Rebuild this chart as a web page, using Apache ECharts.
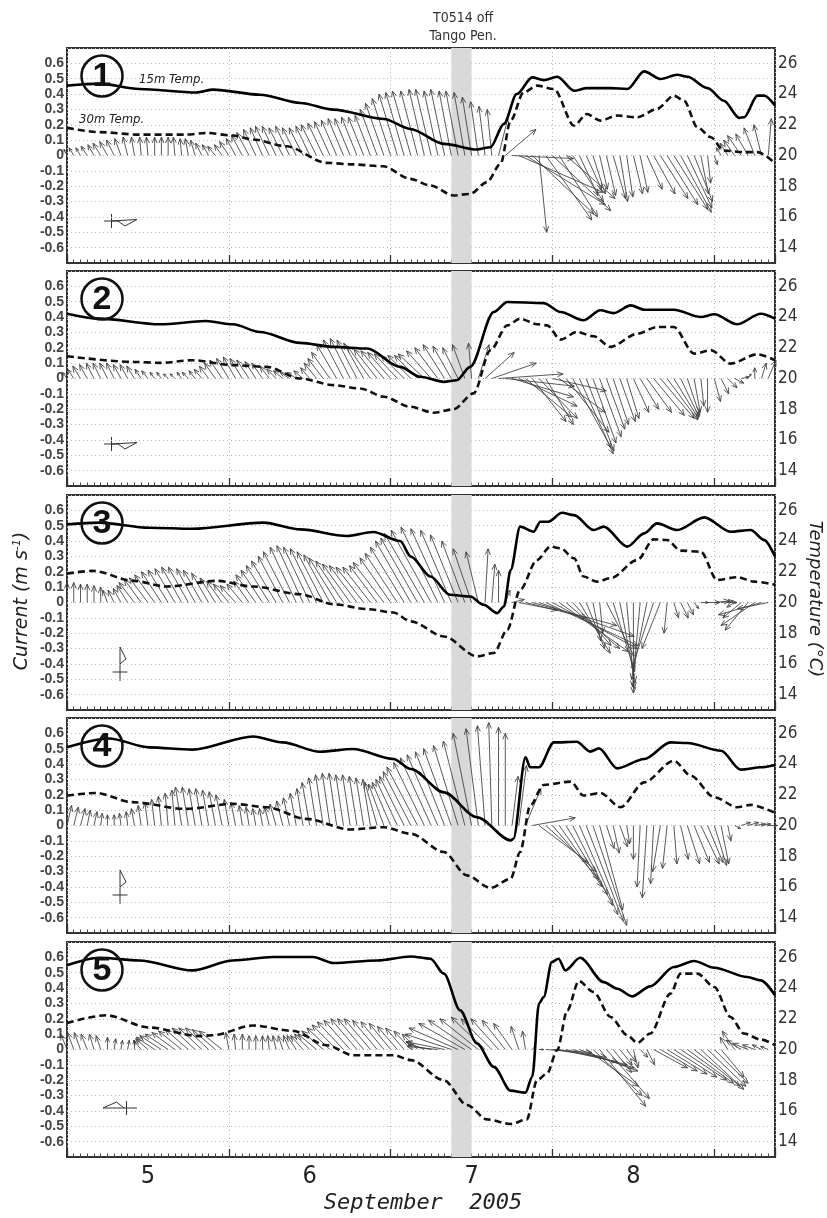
<!DOCTYPE html>
<html><head><meta charset="utf-8">
<script src="https://cdn.jsdelivr.net/npm/echarts@6/dist/echarts.min.js"></script>
<style>html,body{margin:0;padding:0;background:#fff}#c{width:827px;height:1218px}</style>
</head><body><div id="c"></div>
<script>
// ---------- DATA ----------
// time axis: hours since 5 Sep 2005 00:00
const DAY_LABELS = ['5', '6', '7', '8'];
const BAND = [57, 60]; // T0514 passing off Tango Peninsula
const PANEL_LABELS = ['1', '2', '3', '4', '5'];
const CURRENT_TICKS = [-0.6, -0.5, -0.4, -0.3, -0.2, -0.1, 0, 0.1, 0.2, 0.3, 0.4, 0.5, 0.6];
const TEMP_TICKS = [14, 16, 18, 20, 22, 24, 26];

// hourly current vectors (east u, north v; m/s), hour 0..104
const u1 = [-0.02,-0.03,-0.03,-0.04,-0.04, -0.05,-0.05,-0.05,-0.04,-0.03,
 -0.02,-0.01,-0.01,0,0,0,-0.01,-0.01,-0.02,-0.03, -0.04,-0.04,-0.05,-0.05,-0.06,
 -0.06,-0.07,-0.08,-0.08,-0.08, -0.09,-0.09,-0.09,-0.09,-0.09,-0.09,-0.09,-0.1,-0.1,-0.1,
 -0.1,-0.1,-0.1,-0.1,-0.1,-0.1, -0.11,-0.12,-0.12,-0.12,-0.12,-0.12,-0.11,
 -0.1,-0.1,-0.09,-0.09,-0.08,-0.08,-0.07, -0.06,-0.05,-0.04,-0.03,
 0.06,0.2,0.40,0.55,0.52,0.40,0.05,0.30,0.38,0.25,0.32,0.20,0.12,0.10,0.08,0.05,0.06,0.08,0.05,0.04,
 0.06,0.05,0.10,0.14,0.18,0.20,0.22,0.20,0.16,0.12,0.05,0.02,0.02,-0.03,-0.05,-0.07,-0.09,-0.08,-0.07,-0.05,0.02];
const v1 = [0.04,0.05,0.05,0.06,0.07, 0.08,0.09,0.10,0.11,0.12,
 0.12,0.12,0.12,0.12,0.12,0.12,0.12,0.11,0.11,0.10, 0.08,0.07,0.06,0.07,0.09,
 0.11,0.13,0.15,0.17,0.18, 0.19,0.19,0.18,0.19,0.18,0.18,0.19,0.20,0.21,0.22,
 0.23,0.24,0.24,0.25,0.25,0.26, 0.30,0.34,0.37,0.40,0.41,0.42,0.42,
 0.43,0.43,0.42,0.43,0.42,0.42,0.41, 0.38,0.35,0.32,0.30,
 0.24,0.17,-0.02,-0.24,-0.32,-0.38,-0.50,-0.42,-0.36,-0.40,-0.28,-0.30,-0.26,-0.22,-0.25,-0.22,-0.26,-0.28,-0.30,-0.27,
 -0.25,-0.24,-0.22,-0.25,-0.28,-0.32,-0.35,-0.37,-0.34,-0.30,-0.25,-0.18,-0.06,0.05,0.08,0.10,0.13,0.14,0.18,0.20,0.24];

const u2 = [-0.03,-0.04,-0.05,-0.05,-0.05, -0.05,-0.05,-0.05,-0.05,-0.05,-0.05,
 -0.04,-0.04,-0.03,-0.03,-0.03,-0.03,-0.03,-0.04,-0.04,
 -0.05,-0.06,-0.07,-0.08,-0.08,-0.08,-0.08,-0.08,-0.07,-0.07,-0.06,
 -0.06,-0.06,-0.06,-0.06,-0.06,-0.06, -0.08,-0.10,-0.12, -0.13,-0.13,-0.13,-0.13,-0.13,
 -0.15,-0.15,-0.15,-0.15,-0.15,-0.15,-0.15,-0.15, -0.17,-0.16,-0.15,-0.14, -0.12,-0.10,-0.08,-0.02,
 0.07,0.19,0.29,0.42,0.45,0.40,0.38,0.30,0.22,0.25,0.18,0.35,0.30,0.28,0.25,0.22,0.18,0.15,0.14,0.12,
 0.10,0.10,0.08,0.10,0.12,0.16,0.20,0.22,0.20,0.16,0.12,0.08,0.04,0.02,0.0,0.04,0.05,0.06,0.06,0.05,0.02,0.0,0.03,0.05];
const v2 = [0.04,0.06,0.08,0.09,0.10, 0.10,0.10,0.10,0.09,0.09,0.08,
 0.06,0.05,0.04,0.04,0.03,0.03,0.04,0.04,0.05,
 0.06,0.08,0.10,0.12,0.13,0.14,0.13,0.12,0.11,0.10,0.08,
 0.06,0.05,0.04,0.04,0.05,0.07, 0.10,0.13,0.17, 0.22,0.25,0.26,0.25,0.23,
 0.21,0.19,0.18,0.17,0.16,0.15,0.15,0.15, 0.16,0.18,0.20,0.22, 0.21,0.20,0.22,0.23,
 0.22,0.17,0.10,0.03,-0.05,-0.12,-0.18,-0.25,-0.28,-0.26,-0.30,-0.08,-0.22,-0.35,-0.45,-0.49,-0.47,-0.42,-0.38,-0.33,
 -0.30,-0.28,-0.26,-0.22,-0.20,-0.22,-0.24,-0.26,-0.27,-0.26,-0.25,-0.24,-0.22,-0.18,-0.22,-0.15,-0.10,-0.06,-0.03,0.01,0.03,0.07,0.10,0.12];

const u3 = [0,0,0,0,0,0, -0.03,-0.04,-0.05,-0.07,
 -0.10,-0.11,-0.12,-0.13,-0.13,-0.13,-0.13,-0.13,-0.13,-0.12,-0.12,-0.11,
 -0.10,-0.10,-0.10,-0.10,-0.10,-0.10, -0.13,-0.14,-0.15,-0.16,-0.16,-0.17,-0.17,
 -0.17,-0.17,-0.17,-0.17,-0.17, -0.18,-0.18,-0.18,-0.18,-0.18,-0.18,-0.18,
 -0.20,-0.20,-0.21,-0.22,-0.23,-0.24, -0.26,-0.26,-0.24,-0.22,-0.20,-0.18,
 -0.15,-0.12,-0.08,0.02, 0.02,0.0,0.03,
 0.08,0.25,0.40,0.55,0.62,0.60,0.55,0.45,0.35,0.25,0.20,0.12,0.05,0.02,
 0.18,0.14,0.10,0.05,0.0,-0.05,-0.10,-0.14,-0.12,-0.02,
 0.03,0.05,0.04,0.03,0.05,0.08,0.10,0.08,0.06,-0.05,-0.12,-0.15,-0.22,-0.28,-0.20];
const v3 = [0.13,0.13,0.12,0.12,0.11,0.10, 0.08,0.08,0.09,0.11,
 0.13,0.15,0.16,0.18,0.20,0.21,0.22,0.23,0.23,0.22,0.21,0.19,
 0.16,0.14,0.12,0.11,0.12,0.14, 0.18,0.21,0.24,0.27,0.30,0.33,0.36,
 0.37,0.36,0.35,0.33,0.31, 0.29,0.27,0.25,0.24,0.23,0.23,0.24,
 0.26,0.29,0.32,0.36,0.40,0.42, 0.45,0.47,0.49,0.48,0.47,0.44,
 0.40,0.35,0.33,0.35, 0.25,0.21,0.08,
 0.02,-0.05,-0.10,-0.15,-0.22,-0.28,-0.30,-0.32,-0.30,-0.28,-0.33,-0.30,-0.25,-0.20,
 -0.35,-0.45,-0.52,-0.56,-0.59,-0.55,-0.50,-0.42,-0.30,-0.20,
 -0.10,-0.10,-0.08,-0.04,0.0,0.0,0.01,0.01,0.0,-0.03,-0.10,-0.18,-0.15,-0.08,-0.04];

const u4 = [0.03,0.03,0.03,0.02,0.02,0.01, 0,0,-0.01,-0.01,
 -0.02,-0.02,-0.02,-0.02,-0.02,-0.02,-0.02, -0.04,-0.04,-0.04,-0.04,-0.04,-0.04,-0.04,
 -0.03,-0.03,-0.02,-0.02,-0.02,-0.02,-0.03, -0.04,-0.04,-0.04,-0.04,-0.04,
 -0.05,-0.05,-0.05,-0.05,-0.05,-0.05,-0.05,-0.05,-0.05,-0.05,
 -0.08,-0.10,-0.12,-0.14,-0.16,-0.18,-0.20, -0.20,-0.20,-0.20,-0.19,-0.18,-0.16,-0.14,
 -0.12,-0.08,-0.05,-0.02,0.0,0.0,
 0.04,0.05,0.10,0.28,0.32,0.33,0.30,0.28,0.27,0.26,0.25,0.24,0.22,0.15,
 0.05,0.04,0.05,0.02,0.0,-0.02,-0.03,-0.02,-0.05,-0.03,0.02,0.05,0.08,0.10,0.12,0.10,0.08,0.05,0.02,0.04,0.06,0.07,0.07,0.06,0.06];
const v4 = [0.13,0.12,0.11,0.10,0.09,0.08, 0.07,0.07,0.08,0.09,
 0.11,0.13,0.15,0.17,0.19,0.21,0.23, 0.25,0.25,0.24,0.24,0.23,0.22,0.20,
 0.17,0.15,0.13,0.12,0.11,0.11,0.12, 0.14,0.16,0.18,0.21,0.24,
 0.28,0.31,0.33,0.34,0.34,0.33,0.33,0.32,0.31,0.30,
 0.28,0.27,0.28,0.30,0.32,0.35,0.38, 0.41,0.44,0.46,0.48,0.50,0.52,0.55,
 0.60,0.63,0.65,0.67,0.64,0.60,
 0.32,0.39,0.24,0.05,-0.24,-0.30,-0.35,-0.40,-0.45,-0.52,-0.58,-0.62,-0.65,-0.55,
 -0.15,-0.18,-0.14,-0.12,-0.22,-0.40,-0.47,-0.38,-0.30,-0.28,-0.25,-0.22,-0.25,-0.24,-0.25,-0.24,-0.26,-0.25,-0.10,-0.02,0.02,0.02,0.01,0.01,0.0];

const u5 = [-0.04,-0.04,-0.04,-0.04,-0.03,-0.03, 0.0,0.01,0.01,0.01,0.0,
 -0.05,-0.08,-0.12,-0.14,-0.15,-0.15, -0.15,-0.15,-0.15,-0.15,-0.15,-0.15,-0.15,
 -0.02,-0.01,0,0,0,0,-0.01,-0.02,-0.03,-0.04, -0.06,-0.08,-0.10,-0.12,
 -0.14,-0.15,-0.16,-0.17,-0.17,-0.17,-0.17,-0.17,-0.16,-0.15,-0.14,-0.13,-0.12,-0.11,-0.10,
 -0.12,-0.15,-0.20,-0.25, -0.30,-0.32,-0.30,-0.28,-0.25,-0.22, -0.20,-0.18,-0.15,-0.12,-0.05,-0.02,
 0.02,0.03, 0.30,0.35,0.38,0.40,0.40,0.38, 0.34,0.32,0.30,0.28,0.12,0.08, 0.06,0.03,0.05,0.05,
 0.22,0.24,0.26,0.28,0.30,0.30,0.30,0.28,0.25,0.22,0.15, -0.05,-0.08,-0.10,-0.10,-0.08,-0.06,-0.05];
const v5 = [0.10,0.11,0.11,0.10,0.10,0.09, 0.08,0.07,0.06,0.06,0.06,
 0.06,0.07,0.08,0.09,0.10,0.11, 0.12,0.13,0.14,0.14,0.14,0.13,0.12,
 0.11,0.10,0.10,0.09,0.09,0.09,0.09,0.09,0.09,0.09, 0.09,0.09,0.10,0.10,
 0.12,0.14,0.16,0.18,0.19,0.20,0.20,0.20,0.19,0.18,0.17,0.15,0.14,0.12,0.10,
 0.05,0.03,0.02,0.05, 0.10,0.14,0.17,0.19,0.20,0.21, 0.20,0.20,0.19,0.17,0.15,0.12,
 0.02,0.0, -0.02,-0.05,-0.08,-0.10,-0.12,-0.14, -0.24,-0.30,-0.37,-0.32,-0.15,-0.10, -0.08,-0.12,-0.05,-0.10,
 -0.12,-0.14,-0.16,-0.18,-0.20,-0.22,-0.24,-0.26,-0.24,-0.22,-0.18, 0.08,0.12,0.06,0.04,0.03,0.03,0.02];

// water temperature [hour, degC]
const temp15_1 = [[0,24.55],[4.8,24.68],[10.7,24.33],[19.2,24.1],[21.7,24.29],[28.6,23.96],[34.6,23.42],[39.5,22.99],[47,22.38],[50.9,21.73],[55.9,20.76],[60.8,20.39],[62.8,20.54],[64.8,22.06],[66.7,24.0],[69,25.09],[70.7,24.91],[72.7,25.13],[75.2,24.22],[77.1,24.39],[80.6,24.39],[83.1,24.33],[85.6,25.48],[88,24.98],[90.5,25.26],[92,25.13],[95,24.39],[97.4,23.57],[99.7,22.45],[100.4,22.49],[102.4,23.9],[103.4,23.9],[105,23.25]];
const temp30_1 = [[0,21.8],[4.8,21.52],[10.7,21.36],[17.6,21.36],[20.6,21.47],[24.6,21.3],[27.6,21.04],[32.5,20.6],[38.5,19.52],[42.4,19.42],[46.9,19.3],[50.9,18.48],[53.9,18.05],[57.3,17.4],[59.8,17.5],[62.3,18.27],[64.3,19.46],[65.8,22.27],[67.7,24.1],[69.7,24.55],[72.2,24.33],[75.2,21.95],[77.1,22.7],[79.1,22.27],[81.6,22.6],[84.6,22.49],[87.5,23.03],[90,23.9],[91.5,23.57],[93.5,21.84],[95.5,21.19],[97.4,20.32],[100.4,20.22],[102.4,20.22],[105,19.5]];
const temp15_2 = [[0,24.22],[4.8,23.9],[13.8,23.53],[20.6,23.74],[24.6,23.53],[28.6,23.03],[34.6,22.32],[39.5,22.06],[44.5,21.95],[49.4,20.76],[52.4,20.11],[55.9,19.78],[57.8,19.89],[59.8,20.76],[63.3,24.33],[65.3,24.98],[70.7,24.91],[73.2,24.33],[76.6,23.79],[79.1,24.44],[81.1,24.26],[83.6,24.76],[85.6,24.48],[90,24.48],[94,24.0],[96,24.18],[99.4,23.53],[102.9,24.22],[105,23.9]];
const temp30_2 = [[0,21.45],[9.9,21.08],[13.8,21.02],[18.6,21.19],[24.6,20.87],[29.6,20.76],[34.6,20.0],[39.5,19.57],[43.5,19.35],[47,18.81],[50.9,18.16],[54.4,17.77],[57.3,17.99],[60.3,19.03],[62.8,21.84],[65.3,23.46],[67.2,23.9],[69.7,23.53],[71.2,23.46],[73.2,22.53],[75.6,23.03],[78.1,22.75],[80.6,22.06],[84.6,22.92],[87.5,23.35],[90,23.35],[93,21.62],[95.5,21.84],[98.4,20.97],[102.4,21.58],[105,21.19]];
const temp15_3 = [[0,25.09],[4.8,25.2],[12.2,24.87],[18.6,24.8],[29.1,25.2],[34.6,24.76],[41.5,24.33],[45.4,24.59],[49.4,24.0],[51,22.99],[53.9,21.69],[56.8,20.5],[59.8,20.39],[61.8,19.85],[63.8,19.31],[64.8,19.74],[65.8,22.12],[67.2,24.94],[69.2,24.61],[70.2,25.26],[71.4,25.26],[73.4,25.84],[75.2,25.69],[78.1,24.72],[79.6,24.94],[83.1,23.64],[85.6,24.5],[87.5,25.15],[90.5,24.72],[94.5,25.54],[98.4,24.61],[101.4,24.72],[103.4,24.07],[105,22.99]];
const temp30_3 = [[0,21.88],[3.8,22.06],[9.9,21.41],[14.8,21.04],[22.2,21.41],[27.6,21.04],[34.6,20.54],[39.5,19.89],[44.5,19.57],[48.4,19.35],[51,18.77],[55.9,17.79],[60.8,16.49],[63.3,16.71],[65.3,18.23],[67.2,20.82],[69.7,22.77],[71.7,23.64],[73.2,23.53],[75.2,22.88],[76.6,21.69],[78.6,21.36],[80.6,21.58],[84.6,22.77],[87,24.11],[89,24.07],[91,23.38],[94,23.31],[96.4,21.47],[99.4,21.65],[101.9,21.36],[105,21.15]];
const temp15_4 = [[0,25.09],[6.2,25.67],[12.2,25.09],[18.6,24.94],[27.6,25.8],[32,25.41],[37.5,24.8],[42.4,24.98],[48.4,24.33],[51,23.68],[55.9,22.16],[60.8,20.54],[65.8,19.03],[66.2,19.13],[68,24.44],[68.7,23.79],[70,23.79],[72.2,25.41],[75.6,25.45],[77.6,24.81],[78.9,25.02],[81.6,23.72],[85.6,24.33],[89.5,25.41],[92,25.37],[97,24.87],[99.9,23.64],[102.9,23.79],[105,23.94]];
const temp30_4 = [[0,21.95],[4.3,22.12],[9.7,21.52],[17.6,21.08],[24.6,21.41],[29.6,21.19],[35.5,20.43],[42,19.74],[47,19.89],[51,19.46],[55.9,18.27],[59.3,16.75],[62.8,15.93],[65.8,16.54],[67.2,18.27],[68.7,21.3],[70.7,22.64],[74.7,22.86],[76.6,21.95],[79.1,22.12],[82.1,21.19],[85.6,22.81],[90,24.22],[92.5,23.25],[96,21.84],[99.4,21.19],[101.4,21.34],[105,20.82]];
const temp15_5 = [[0,25.48],[4.8,25.97],[10.7,25.8],[18.6,25.15],[24.6,25.8],[30.5,26.02],[36.5,26.02],[39.5,25.63],[46,25.8],[51,26.06],[53.9,25.91],[55.9,24.94],[58.3,22.55],[60.8,20.39],[63.3,18.87],[65.8,17.32],[68,17.19],[69,18.23],[70,22.99],[70.7,23.42],[71.9,25.69],[72.9,25.91],[73.9,25.15],[76.1,25.97],[79.6,24.39],[81.6,23.96],[83.8,23.46],[86.5,24.11],[90,25.37],[93,25.76],[96,25.32],[100.9,24.72],[102.9,24.5],[105,23.53]];
const temp30_5 = [[0,21.73],[5.8,22.23],[12.2,21.43],[19.6,20.87],[21.6,20.93],[27.6,21.56],[33.5,21.21],[38.5,20.28],[42.4,19.63],[48.4,19.63],[51,19.31],[55.9,18.0],[59.3,16.39],[62.3,15.45],[65.8,15.15],[68.2,15.45],[69.7,18.0],[71.2,18.44],[72.7,19.96],[74.2,22.55],[75.9,24.46],[78.1,23.74],[80.6,22.12],[83.1,20.93],[84.6,20.43],[86.5,21.04],[89.5,23.64],[91,24.94],[93.5,24.94],[96,24.07],[98.4,22.12],[100.4,21.04],[102.9,20.65],[105,20.28]];

// ---------- CHART ----------
const U = [u1, u2, u3, u4, u5], V = [v1, v2, v3, v4, v5];
const T15 = [temp15_1, temp15_2, temp15_3, temp15_4, temp15_5];
const T30 = [temp30_1, temp30_2, temp30_3, temp30_4, temp30_5];
const TOPS = [48, 271, 495, 718, 942], H = 215, LEFT = 67, RIGHT = 52;
const NARROW = '"DejaVu Sans Condensed", "Liberation Sans", sans-serif';

const chart = echarts.init(document.getElementById('c'), null, {renderer: 'canvas'});

function renderVector(params, api) {
  const t = api.value(0), u = api.value(1), v = api.value(2);
  const base = api.coord([t, 0]);
  const unit = api.size([0, 1])[1];
  const tx = base[0] + u * unit, ty = base[1] - v * unit;
  const dx = tx - base[0], dy = ty - base[1];
  const len = Math.hypot(dx, dy);
  if (len < 0.5) return {type: 'group', children: []};
  const h = Math.min(6.5, len * 0.45);
  const bx = -dx / len, by = -dy / len, a = 0.40, ca = Math.cos(a), sa = Math.sin(a);
  const p1 = [tx + h * (bx * ca - by * sa), ty + h * (bx * sa + by * ca)];
  const p2 = [tx + h * (bx * ca + by * sa), ty + h * (-bx * sa + by * ca)];
  const st = {stroke: '#3c3c3c', lineWidth: 0.85, fill: 'none'};
  return {type: 'group', children: [
    {type: 'line', shape: {x1: base[0], y1: base[1], x2: tx, y2: ty}, style: st},
    {type: 'polyline', shape: {points: [p1, [tx, ty], p2]}, style: st}
  ]};
}

const grid = [], xAxis = [], yAxis = [], series = [], graphic = [];
const dotted = {color: '#b8b8b8', type: [1, 3], width: 1};
for (let i = 0; i < 5; i++) {
  grid.push({left: LEFT, right: RIGHT, top: TOPS[i], height: H, show: true, borderColor: '#333', borderWidth: 2, containLabel: false, outerBoundsMode: 'none'});
  // hourly ticks (data axis)
  xAxis.push({type: 'value', gridIndex: i, min: 0, max: 105, interval: 1, position: 'bottom',
    axisLine: {show: true, onZero: false, lineStyle: {color: '#333', width: 2}},
    axisTick: {show: true, inside: true, length: 3.5, lineStyle: {color: '#444', width: 1}},
    axisLabel: {show: false}, splitLine: {show: false}});
}
for (let i = 0; i < 5; i++) {
  // midnight ticks + vertical dotted grid
  xAxis.push({type: 'value', gridIndex: i, min: 0, max: 105, interval: 24, position: 'bottom',
    axisLine: {show: false, onZero: false},
    axisTick: {show: true, inside: true, length: 8, lineStyle: {color: '#333', width: 1.3}},
    axisLabel: {show: false}, splitLine: {show: true, lineStyle: dotted}});
}
// day labels at noon (bottom panel)
xAxis.push({type: 'value', gridIndex: 4, min: 0, max: 105, interval: 12, position: 'bottom',
  axisLine: {show: false, onZero: false}, axisTick: {show: false}, splitLine: {show: false},
  axisLabel: {show: true, margin: 7, color: '#222', fontSize: 25, fontFamily: NARROW,
    formatter: v => (Math.round(v) % 24 === 12 ? DAY_LABELS[(Math.round(v) - 12) / 24] : '')}});

for (let i = 0; i < 5; i++) {
  yAxis.push({type: 'value', gridIndex: i, min: -0.7, max: 0.7, interval: 0.1, position: 'left',
    axisLine: {show: false}, axisTick: {show: false},
    splitLine: {show: true, lineStyle: dotted},
    axisLabel: {margin: 3, color: '#444', fontSize: 14, fontWeight: 'bold', fontFamily: 'Liberation Sans',
      formatter: v => { const r = Math.round(v * 10) / 10; if (!CURRENT_TICKS.some(c => Math.abs(c - r) < 1e-6)) return ''; return r === 0 ? '0' : r.toFixed(1); }}});
  yAxis.push({type: 'value', gridIndex: i, min: 13, max: 27, interval: 1, position: 'right',
    axisLine: {show: false}, axisTick: {show: false}, splitLine: {show: false},
    axisLabel: {margin: 3, color: '#333', fontSize: 17, fontFamily: NARROW,
      formatter: v => (TEMP_TICKS.indexOf(Math.round(v)) >= 0 ? String(Math.round(v)) : '')}});

  series.push({type: 'line', xAxisIndex: i, yAxisIndex: 2 * i, data: [], silent: true, z: 1,
    markArea: {silent: true, itemStyle: {color: '#d9d9d9'}, data: [[{xAxis: BAND[0]}, {xAxis: BAND[1]}]]}});
  const vec = U[i].map((u, k) => [k, u, V[i][k]]);
  series.push({type: 'custom', xAxisIndex: i, yAxisIndex: 2 * i, data: vec, renderItem: renderVector, silent: true, clip: false, z: 3});
  series.push({type: 'line', xAxisIndex: i, yAxisIndex: 2 * i + 1, data: T15[i], showSymbol: false, smooth: 0.3, smoothMonotone: 'x',
    lineStyle: {color: '#000', width: 2.6}, z: 5, silent: true});
  series.push({type: 'line', xAxisIndex: i, yAxisIndex: 2 * i + 1, data: T30[i], showSymbol: false, smooth: 0.3, smoothMonotone: 'x',
    lineStyle: {color: '#111', width: 2.6, type: [7, 4]}, z: 5, silent: true});

  // panel number in circle
  graphic.push({type: 'circle', shape: {cx: 102, cy: TOPS[i] + 28, r: 20.5}, style: {stroke: '#111', lineWidth: 2.5, fill: 'none'}, z: 10});
  graphic.push({type: 'text', x: 102, y: TOPS[i] + 29, style: {text: PANEL_LABELS[i], align: 'center', verticalAlign: 'middle', font: 'bold 34px "Liberation Sans"', fill: '#111'}, z: 10});
}

// orientation symbols (lower-left of each panel)
const sym = {stroke: '#333', lineWidth: 1, fill: 'none'};
[0, 1].forEach(i => {
  const y = TOPS[i] + 173;
  graphic.push({type: 'polyline', shape: {points: [[104, y], [119, y]]}, style: sym});
  graphic.push({type: 'polyline', shape: {points: [[111.5, y - 7], [111.5, y + 7]]}, style: sym});
  graphic.push({type: 'polyline', shape: {points: [[111.5, y], [137, y - 1.5], [125, y + 5], [118, y]]}, style: sym});
});
[2, 3].forEach(i => {
  const y = TOPS[i] + 177;
  graphic.push({type: 'polyline', shape: {points: [[112.5, y], [127.5, y]]}, style: sym});
  graphic.push({type: 'polyline', shape: {points: [[120, y - 25], [120, y + 9]]}, style: sym});
  graphic.push({type: 'polyline', shape: {points: [[120, y - 25], [126, y - 13], [120, y - 8]]}, style: sym});
});
{
  const y = TOPS[4] + 166;
  graphic.push({type: 'polyline', shape: {points: [[103, y], [137, y]]}, style: sym});
  graphic.push({type: 'polyline', shape: {points: [[126.5, y - 7], [126.5, y + 7]]}, style: sym});
  graphic.push({type: 'polyline', shape: {points: [[103, y], [116.5, y - 6], [124, y]]}, style: sym});
}

// in-plot labels and titles
graphic.push({type: 'text', x: 139, y: 80, style: {text: '15m Temp.', align: 'left', verticalAlign: 'middle', font: 'italic 13px ' + NARROW, fill: '#222'}, z: 10});
graphic.push({type: 'text', x: 79, y: 120, style: {text: '30m Temp.', align: 'left', verticalAlign: 'middle', font: 'italic 13px ' + NARROW, fill: '#222'}, z: 10});
graphic.push({type: 'text', x: 463, y: 18, style: {text: 'T0514 off', align: 'center', verticalAlign: 'middle', font: '14px ' + NARROW, fill: '#333'}});
graphic.push({type: 'text', x: 463, y: 36, style: {text: 'Tango Pen.', align: 'center', verticalAlign: 'middle', font: '14px ' + NARROW, fill: '#333'}});
graphic.push({type: 'text', x: 22, y: 601, rotation: Math.PI / 2,
  style: {text: '{a|Current (m s}{b|-1}{a|)}', align: 'center', verticalAlign: 'middle',
    rich: {a: {font: 'italic 19px "DejaVu Sans"', fill: '#222'}, b: {font: 'italic 11px "DejaVu Sans"', fill: '#222', verticalAlign: 'top', padding: [0, 0, 9, 0]}}}});
graphic.push({type: 'text', x: 815, y: 599, rotation: -Math.PI / 2,
  style: {text: 'Temperature (°C)', align: 'center', verticalAlign: 'middle', font: 'italic 18px "DejaVu Sans"', fill: '#222'}});
graphic.push({type: 'text', x: 423, y: 1203, style: {text: 'September  2005', align: 'center', verticalAlign: 'middle', font: 'italic 22px "DejaVu Sans Mono"', fill: '#222'}});

chart.setOption({animation: false, backgroundColor: '#fff', grid, xAxis, yAxis, series, graphic});
</script></body></html>
